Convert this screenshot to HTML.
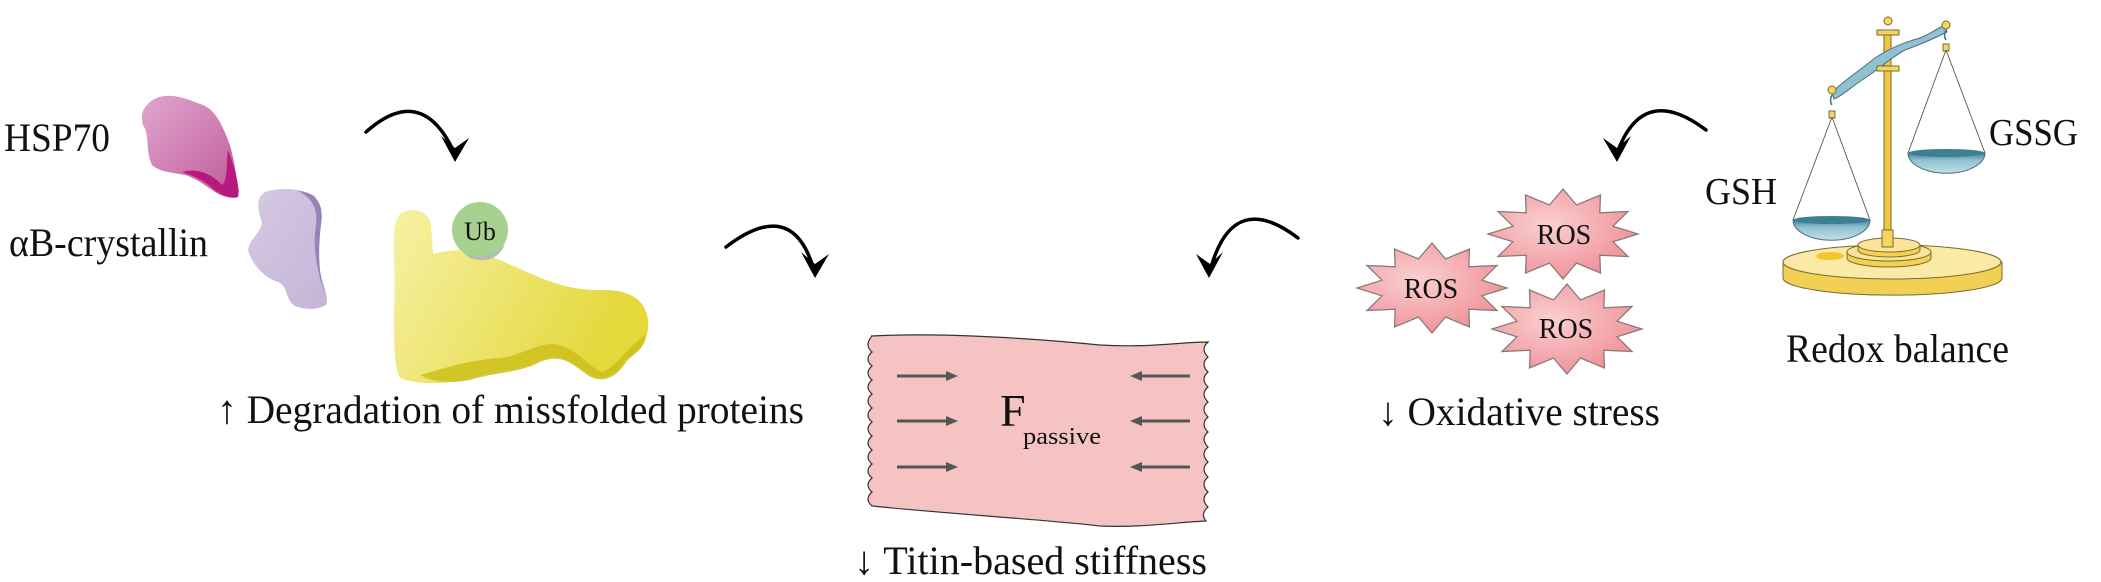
<!DOCTYPE html>
<html><head><meta charset="utf-8"><style>
html,body{margin:0;padding:0;background:#fff;}
svg{display:block;}
text{font-family:"Liberation Serif",serif;fill:#111;}
</style></head><body>
<svg width="2101" height="582" viewBox="0 0 2101 582" xmlns="http://www.w3.org/2000/svg">
<defs>
<linearGradient id="mag" x1="0" y1="0" x2="1" y2="1"><stop offset="0" stop-color="#dfa6cc"/><stop offset="1" stop-color="#c05a9c"/></linearGradient>
<linearGradient id="pur" x1="0" y1="0" x2="1" y2="1"><stop offset="0" stop-color="#d6c8e2"/><stop offset="1" stop-color="#c6b4d8"/></linearGradient>
<linearGradient id="yel" x1="0" y1="0" x2="1" y2="0.4"><stop offset="0" stop-color="#f6f1a6"/><stop offset="1" stop-color="#e4d83a"/></linearGradient>
<radialGradient id="ros" cx="0.4" cy="0.4" r="0.7"><stop offset="0" stop-color="#fad0d0"/><stop offset="1" stop-color="#ef8a92"/></radialGradient>
<linearGradient id="pan" x1="0" y1="0" x2="0" y2="1"><stop offset="0" stop-color="#3f8298"/><stop offset="0.35" stop-color="#8fc0cf"/><stop offset="1" stop-color="#c4dfe7"/></linearGradient>
<polygon id="star" points="75,0 50,7.8 65,22.5 36.8,21.2 37.5,39 13.5,29 0,45 -13.5,29 -37.5,39 -36.8,21.2 -65,22.5 -50,7.8 -75,0 -50,-7.8 -65,-22.5 -36.8,-21.2 -37.5,-39 -13.5,-29 0,-45 13.5,-29 37.5,-39 36.8,-21.2 65,-22.5 50,-7.8" fill="url(#ros)" stroke="#8a7a7a" stroke-width="1.3"/>
</defs>

<text x="4" y="151" font-size="40" textLength="106" lengthAdjust="spacingAndGlyphs">HSP70</text>
<text x="9" y="256" font-size="40" textLength="199" lengthAdjust="spacingAndGlyphs">αB-crystallin</text>

<path d="M150,102 C165,90 185,98 200,104 C215,108 222,125 228,140 C234,155 236,175 239,192 C236,200 225,198 215,192 C205,185 195,178 185,175 C170,172 160,172 152,165 C145,150 150,135 143,125 C140,115 143,108 150,102 Z" fill="url(#mag)"/>
<path d="M228,150 C236,170 240,190 238,197 C230,200 218,194 210,186 C200,178 190,175 182,172 C195,168 210,172 222,185 C228,180 226,165 228,150 Z" fill="#b8197e"/>
<path d="M265,192 C285,186 305,190 315,196 C322,210 320,240 318,260 C320,280 330,295 326,305 C318,310 305,310 295,306 C285,300 288,285 278,282 C265,278 252,265 248,250 C250,238 262,232 262,222 C258,212 255,198 265,192 Z" fill="url(#pur)"/>
<path d="M298,191 C318,193 324,205 321,225 C318,250 318,272 326,300 C318,272 312,250 316,225 C318,208 312,198 298,191 Z" fill="#9a82b8"/>

<path d="M400,214 C412,206 428,210 431,225 L433,254 C450,250 470,246 495,258 C530,272 560,292 605,290 C635,290 650,305 648,328 C646,350 635,350 625,360 C615,378 600,382 585,372 C570,360 560,352 540,360 C520,372 495,370 470,378 C440,386 415,384 400,378 C390,360 396,300 394,260 C393,240 393,222 400,214 Z" fill="url(#yel)"/>
<path d="M420,375 C445,368 470,360 500,358 C525,355 540,340 560,345 C580,352 590,368 602,372 C615,368 625,350 645,335 C645,350 635,352 626,362 C615,380 600,384 586,374 C570,362 560,354 540,362 C520,373 495,372 470,380 C450,384 432,382 420,375 Z" fill="#cdbf1c" opacity="0.85"/>
<circle cx="480" cy="230" r="28" fill="#a7d18e"/>
<path d="M460,250 C475,262 495,258 505,244 C500,258 485,264 470,258 Z" fill="#b8b8b8"/>
<text x="480" y="240" font-size="26" text-anchor="middle">Ub</text>

<g fill="none" stroke="#000" stroke-width="3.5" stroke-linecap="round">
<path d="M366,132 Q420,84 452,148"/>
<path d="M726,247 Q790,198 812,264"/>
<path d="M1298,238 Q1235,190 1212,264"/>
<path d="M1706,130 Q1645,84 1619,148"/>
</g>
<g fill="#000">
<path d="M455,162 L441,136 L455,148 L469,138 Z"/>
<path d="M815,278 L801,252 L815,264 L829,254 Z"/>
<path d="M1209,278 L1196,254 L1210,264 L1223,252 Z"/>
<path d="M1617,162 L1603,138 L1617,148 L1631,136 Z"/>
</g>

<text x="217" y="423" font-size="40" textLength="587" lengthAdjust="spacingAndGlyphs">↑ Degradation of missfolded proteins</text>

<path d="M871,336 C950,332 1050,340 1100,345 C1150,348 1180,342 1208,342
 q-8,7 0,15 q-8,7 0,15 q-8,7 0,15 q-8,7 0,15 q-8,7 0,15 q-8,7 0,15 q-8,7 0,15 q-8,7 0,15 q-8,7 0,15 q-8,7 0,15 q-8,7 0,15 q-8,7 -2,14
 C1180,522 1140,528 1100,526 C1050,520 950,514 872,506
 q-8,-7 0,-14 q-8,-7 0,-14 q-8,-7 0,-14 q-8,-7 0,-14 q-8,-7 0,-14 q-8,-7 0,-14 q-8,-7 0,-14 q-8,-7 0,-14 q-8,-7 0,-14 q-8,-7 0,-14 q-8,-7 0,-14 q-8,-7 0,-16 Z" fill="#f6c3c3" stroke="#333" stroke-width="1.2"/>
<g stroke="#555" stroke-width="3" fill="#555">
<line x1="897" y1="376" x2="948" y2="376"/><path d="M958,376 L946,371 L946,381 Z" stroke="none"/>
<line x1="897" y1="421" x2="948" y2="421"/><path d="M958,421 L946,416 L946,426 Z" stroke="none"/>
<line x1="897" y1="467" x2="948" y2="467"/><path d="M958,467 L946,462 L946,472 Z" stroke="none"/>
<line x1="1140" y1="376" x2="1190" y2="376"/><path d="M1130,376 L1142,371 L1142,381 Z" stroke="none"/>
<line x1="1140" y1="421" x2="1190" y2="421"/><path d="M1130,421 L1142,416 L1142,426 Z" stroke="none"/>
<line x1="1140" y1="467" x2="1190" y2="467"/><path d="M1130,467 L1142,462 L1142,472 Z" stroke="none"/>
</g>
<text x="1000" y="426" font-size="46">F</text>
<text x="1023" y="444" font-size="24" textLength="78" lengthAdjust="spacingAndGlyphs">passive</text>
<text x="854" y="574" font-size="40" textLength="353" lengthAdjust="spacingAndGlyphs">↓ Titin-based stiffness</text>

<use href="#star" transform="translate(1563,234)"/>
<use href="#star" transform="translate(1432,288)"/>
<use href="#star" transform="translate(1567,329)"/>
<text x="1564" y="244" font-size="28" text-anchor="middle">ROS</text>
<text x="1431" y="298" font-size="28" text-anchor="middle">ROS</text>
<text x="1566" y="338" font-size="28" text-anchor="middle">ROS</text>
<text x="1378" y="425" font-size="40" textLength="282" lengthAdjust="spacingAndGlyphs">↓ Oxidative stress</text>

<g stroke="#7a6a30" stroke-width="1">
<path d="M1783,262 L1783,278 A109,17 0 0 0 2002,278 L2002,262 Z" fill="#f2cf55"/>
<ellipse cx="1892" cy="262" rx="109" ry="17" fill="#fbeaa6"/>
<ellipse cx="1830" cy="256" rx="14" ry="4" fill="#f5c530" stroke="none"/>
<path d="M1847,252 L1847,258 A42,9 0 0 0 1931,258 L1931,252 Z" fill="#f2cf55"/>
<ellipse cx="1889" cy="252" rx="42" ry="9" fill="#fbe49a"/>
<path d="M1858,245 L1858,250 A31,7 0 0 0 1920,250 L1920,245 Z" fill="#f2cf55"/>
<ellipse cx="1889" cy="245" rx="31" ry="7" fill="#fbe49a"/>
<rect x="1884" y="33" width="7" height="200" fill="#f0c840"/>
<rect x="1882" y="230" width="11" height="17" fill="#f5d560"/>
<path d="M1832,92 C1845,80 1860,70 1875,58 C1890,48 1905,42 1920,38 C1930,34 1938,28 1945,25 L1947,32 C1935,38 1922,44 1905,50 C1890,58 1878,70 1862,80 C1850,88 1842,96 1834,99 Z" fill="#8fc1cf" stroke="#4a7080"/>
<rect x="1877" y="30" width="22" height="5" fill="#f5d560"/>
<rect x="1877" y="66" width="22" height="5" fill="#f5d560"/>
<circle cx="1888" cy="21" r="4" fill="#f5d560"/>
<circle cx="1832" cy="90" r="4" fill="#f5d560"/>
<circle cx="1946" cy="25" r="4" fill="#f5d560"/>
<rect x="1829" y="111" width="6" height="7" fill="#f5d560"/>
<rect x="1943" y="44" width="6" height="7" fill="#f5d560"/>
</g>
<g stroke="#555" stroke-width="0.9" fill="none">
<path d="M1832,117 L1793,220 M1832,117 L1870,220"/>
<path d="M1946,50 L1908,153 M1946,50 L1985,153"/>
<path d="M1832,95 q-3,6 0,10 M1946,30 q-3,6 0,10" stroke="#4a7080" stroke-width="1.5"/>
</g>
<path d="M1793,220 A38,20 0 0 0 1870,220 Z" fill="url(#pan)" stroke="#4a6f7c" stroke-width="1"/>
<ellipse cx="1831.5" cy="220" rx="38.5" ry="4" fill="#3d7f95"/>
<path d="M1908,153 A38,20 0 0 0 1985,153 Z" fill="url(#pan)" stroke="#4a6f7c" stroke-width="1"/>
<ellipse cx="1946.5" cy="153" rx="38.5" ry="4" fill="#3d7f95"/>

<text x="1705" y="204" font-size="38" textLength="72" lengthAdjust="spacingAndGlyphs">GSH</text>
<text x="1989" y="145" font-size="38" textLength="89" lengthAdjust="spacingAndGlyphs">GSSG</text>
<text x="1786" y="362" font-size="40" textLength="223" lengthAdjust="spacingAndGlyphs">Redox balance</text>
</svg>
</body></html>
